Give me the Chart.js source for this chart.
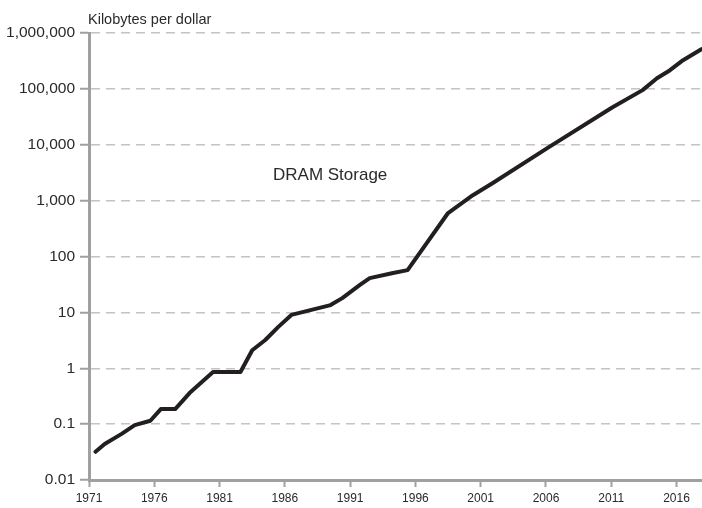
<!DOCTYPE html>
<html>
<head>
<meta charset="utf-8">
<script src="https://cdn.jsdelivr.net/npm/chart.js@4"></script>
<style>
  html, body { margin: 0; padding: 0; background: #fff; }
  #wrap { width: 702px; height: 508px; }
</style>
</head>
<body>
<div id="wrap"><canvas id="dramChart" width="702" height="508"></canvas></div>
<script>
// years (fractional where the line bends between years) and kilobytes per dollar
const years = [1971.5, 1972.2, 1973.5, 1974.5, 1975.7, 1976.5, 1977.6, 1978.7, 1980.5, 1982.6,
  1983.5, 1984.5, 1985.5, 1986.5, 1989.5, 1990.4, 1991.75, 1992.5, 1994.2, 1995.4,
  1998.5, 2000.4, 2001.9, 2006.1, 2011.1, 2013.4, 2014.5, 2015.5, 2016.5, 2017.9];
const kbPerDollar = [0.032, 0.044, 0.067, 0.096, 0.115, 0.186, 0.186, 0.36, 0.855, 0.855,
  2.1, 3.2, 5.5, 9.0, 13.5, 18, 31, 41, 50, 57,
  600, 1250, 2050, 8700, 47000, 95000, 155000, 216000, 326000, 513000];
const xTicks = [1971, 1976, 1981, 1986, 1991, 1996, 2001, 2006, 2011, 2016];
const yTicks = [0.01, 0.1, 1, 10, 100, 1000, 10000, 100000, 1000000];

const axisGray = "#a0a0a0";
const labelColor = "#2a2a2a";
const fontFam = "'Liberation Sans', Arial, sans-serif";

// axis caption and series label
const textPlugin = {
  id: "texts",
  afterDraw(chart) {
    const ctx = chart.ctx;
    const area = chart.chartArea;
    ctx.save();
    ctx.fillStyle = labelColor;
    ctx.textBaseline = "alphabetic";
    ctx.textAlign = "left";
    ctx.font = "14.5px " + fontFam;
    ctx.fillText("Kilobytes per dollar", area.left - 1, 24);
    ctx.font = "17px " + fontFam;
    ctx.fillText("DRAM Storage", 273, 180);
    ctx.restore();
  }
};

const ctx = document.getElementById("dramChart").getContext("2d");
new Chart(ctx, {
  type: "line",
  data: {
    datasets: [{
      label: "DRAM Storage",
      data: years.map((y, i) => ({ x: y, y: kbPerDollar[i] })),
      borderColor: "#231f20",
      borderWidth: 4,
      pointRadius: 0,
      tension: 0,
      borderCapStyle: "round",
      borderJoinStyle: "round"
    }]
  },
  options: {
    responsive: false,
    animation: false,
    layout: { padding: { top: 33, right: 0, left: 0, bottom: 0 } },
    plugins: {
      legend: { display: false },
      tooltip: { enabled: false }
    },
    scales: {
      x: {
        type: "linear",
        min: 1971,
        max: 2017.95,
        afterBuildTicks: scale => { scale.ticks = xTicks.map(v => ({ value: v })); },
        afterFit: scale => { scale.height = 28; },
        border: { color: axisGray, width: 3 },
        grid: {
          drawOnChartArea: false,
          drawTicks: true,
          tickLength: 7,
          tickColor: axisGray,
          tickWidth: 2
        },
        ticks: {
          autoSkip: false,
          maxRotation: 0,
          padding: 4,
          color: labelColor,
          font: { family: fontFam, size: 12 },
          callback: v => String(v)
        }
      },
      y: {
        type: "logarithmic",
        min: 0.01,
        max: 1000000,
        afterBuildTicks: scale => { scale.ticks = yTicks.map(v => ({ value: v })); },
        afterFit: scale => { scale.width = 89; },
        border: { color: axisGray, width: 3, dash: [9, 6] },
        grid: {
          color: "#c4c4c4",
          lineWidth: 1.5,
          drawTicks: true,
          tickLength: 9,
          tickColor: axisGray,
          tickWidth: 2,
          tickBorderDash: []
        },
        ticks: {
          autoSkip: false,
          padding: 5,
          color: labelColor,
          font: { family: fontFam, size: 15.5 },
          callback: v => v < 1 ? String(v) : Number(v).toLocaleString("en-US")
        }
      }
    }
  },
  plugins: [textPlugin]
});
</script>
</body>
</html>
